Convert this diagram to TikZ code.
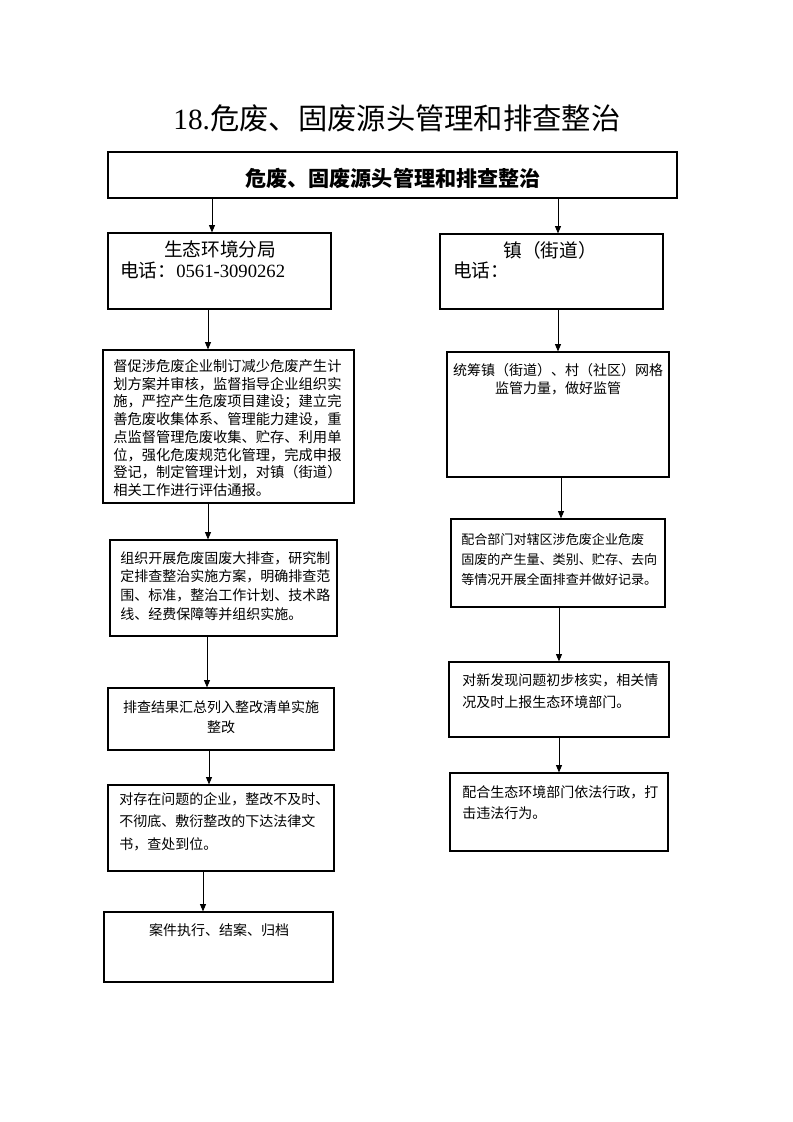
\documentclass[tikz,border=0pt]{standalone}
\usepackage{fontspec}
\setmainfont{Liberation Serif}
\newfontfamily\cjk{Noto Sans CJK SC}
\usetikzlibrary{
  arrows.meta,
  fit
}

\begin{document}
\begin{tikzpicture}[
  x=0.75pt, y=-0.75pt,
  box/.style={draw, line width=0.9pt, inner sep=0pt},
  arr/.style={-{Triangle[length=5.5pt, width=4.5pt]}, line width=0.7pt},
  note/.style={font=\cjk\fontsize{10.5}{#1}\selectfont, inner sep=0pt, align=left, anchor=north west},
  notec/.style={note=#1, align=center, anchor=north},
  big/.style={font=\cjk\fontsize{14}{16.5}\selectfont, inner sep=0pt}
]
  \useasboundingbox (0,0) rectangle (793,1122);

  \node[font=\fontsize{22}{26}\selectfont, inner sep=0pt] (title) at (397,118) {18.{\cjk 危废、固废源头管理和排查整治}};

  \node[box, fit={(108,152) (677,198)}] (head) {};
  \node[font=\cjk\fontsize{15.8}{18}\selectfont\bfseries, inner sep=0pt] (headtext) at (393,178) {危废、固废源头管理和排查整治};

  % left column
  \node[box, fit={(108,233) (331,309)}] (bureau) {};
  \node[big, anchor=north] (bureauname) at (220,240) {生态环境分局};
  \node[big, anchor=north west] (bureautel) at (120,262) {电话：\rmfamily 0561-3090262};

  \node[box, fit={(103,350) (354,503)}] (plan) {};
  \node[note=13.3, font=\cjk\fontsize{10.7}{13.3}\selectfont] (plantext) at (113,359) {督促涉危废企业制订减少危废产生计\\划方案并审核，监督指导企业组织实\\施，严控产生危废项目建设；建立完\\善危废收集体系、管理能力建设，重\\点监督管理危废收集、贮存、利用单\\位，强化危废规范化管理，完成申报\\登记，制定管理计划，对镇（街道）\\相关工作进行评估通报。};

  \node[box, fit={(110,540) (337,636)}] (survey) {};
  \node[note=14] (surveytext) at (120,551) {组织开展危废固废大排查，研究制\\定排查整治实施方案，明确排查范\\围、标准，整治工作计划、技术路\\线、经费保障等并组织实施。};

  \node[box, fit={(108,688) (334,750)}] (rectify) {};
  \node[notec=15] (rectifytext) at (221,700) {排查结果汇总列入整改清单实施\\整改};

  \node[box, fit={(108,785) (334,871)}] (enforce) {};
  \node[note=16.9] (enforcetext) at (119,792) {对存在问题的企业，整改不及时、\\不彻底、敷衍整改的下达法律文\\书，查处到位。};

  \node[box, fit={(104,912) (333,982)}] (archive) {};
  \node[notec=15] (archivetext) at (219,923) {案件执行、结案、归档};

  % right column
  \node[box, fit={(440,234) (663,309)}] (town) {};
  \node[big, anchor=north] (townname) at (550,241) {镇（街道）};
  \node[big, anchor=north west] (towntel) at (453,262) {电话：};

  \node[box, fit={(447,352) (669,477)}] (grid) {};
  \node[notec=14] (gridtext) at (558,363) {统筹镇（街道）、村（社区）网格\\监管力量，做好监管};

  \node[box, fit={(451,519) (665,607)}] (check) {};
  \node[note=15, font=\cjk\fontsize{9.8}{15}\selectfont] (checktext) at (461,533) {配合部门对辖区涉危废企业危废\\固废的产生量、类别、贮存、去向\\等情况开展全面排查并做好记录。};

  \node[box, fit={(449,662) (669,737)}] (verify) {};
  \node[note=16.5] (verifytext) at (462,673) {对新发现问题初步核实，相关情\\况及时上报生态环境部门。};

  \node[box, fit={(450,773) (668,851)}] (assist) {};
  \node[note=15.7] (assisttext) at (462,785) {配合生态环境部门依法行政，打\\击违法行为。};

  % arrows
  \draw[arr] (212,0 |- head.south) -- (212,0 |- bureau.north);
  \draw[arr] (558,0 |- head.south) -- (558,0 |- town.north);
  \draw[arr] (208,0 |- bureau.south) -- (208,0 |- plan.north);
  \draw[arr] (208,0 |- plan.south) -- (208,0 |- survey.north);
  \draw[arr] (207,0 |- survey.south) -- (207,0 |- rectify.north);
  \draw[arr] (209,0 |- rectify.south) -- (209,0 |- enforce.north);
  \draw[arr] (203,0 |- enforce.south) -- (203,0 |- archive.north);
  \draw[arr] (558,0 |- town.south) -- (558,0 |- grid.north);
  \draw[arr] (561,0 |- grid.south) -- (561,0 |- check.north);
  \draw[arr] (559,0 |- check.south) -- (559,0 |- verify.north);
  \draw[arr] (559,0 |- verify.south) -- (559,0 |- assist.north);
\end{tikzpicture}
\end{document}
